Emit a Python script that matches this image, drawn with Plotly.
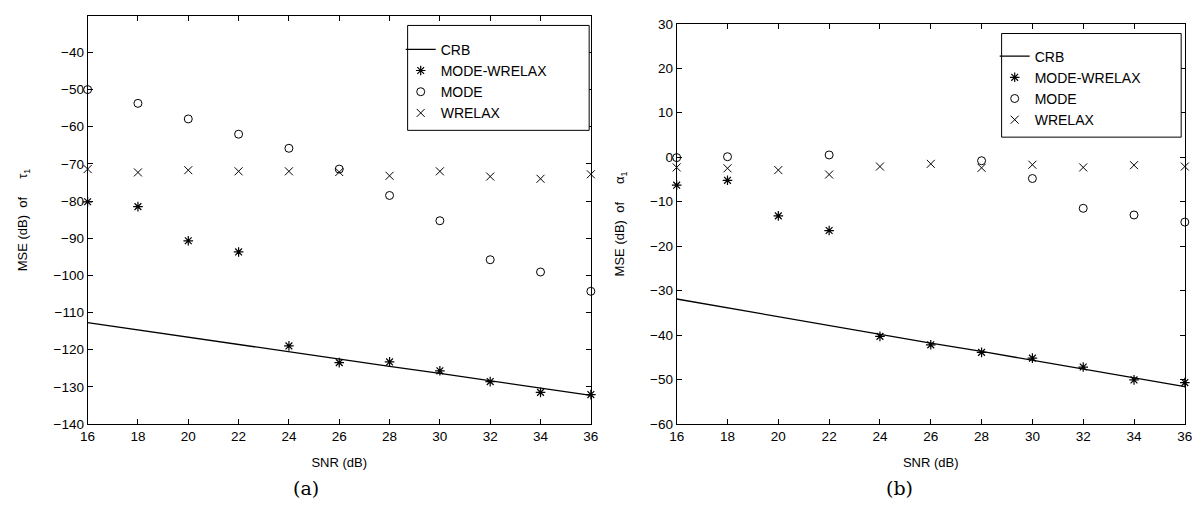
import plotly.graph_objects as go

W, H = 1203, 521

snr = [16, 18, 20, 22, 24, 26, 28, 30, 32, 34, 36]

# panel (a): tau_1
crb_tau = [-112.7, -114.7, -116.6, -118.6, -120.5, -122.5, -124.5, -126.4, -128.4, -130.3, -132.3]
mw_tau = [-80.2, -81.5, -90.7, -93.7, -119.0, -123.5, -123.3, -125.7, -128.6, -131.5, -132.1]
mode_tau = [-50.0, -53.7, -57.9, -62.0, -65.8, -71.4, -78.5, -85.3, -95.8, -99.1, -104.3]
wrelax_tau = [-71.4, -72.3, -71.7, -72.0, -72.0, -72.2, -73.2, -72.0, -73.4, -74.0, -72.8]

# panel (b): alpha_1
crb_alpha = [-31.9, -33.9, -35.9, -37.8, -39.8, -41.8, -43.7, -45.7, -47.6, -49.6, -51.6]
mw_alpha = [-6.3, -5.2, -13.2, -16.5, -40.3, -42.2, -43.9, -45.2, -47.2, -50.1, -50.7]
mode_alpha = [-0.1, 0.1, None, 0.5, None, None, -0.8, -4.8, -11.5, -13.0, -14.6]
wrelax_alpha = [-2.3, -2.5, -2.9, -3.9, -2.1, -1.5, -2.4, -1.7, -2.3, -1.8, -2.1]

x_ticks = [16, 18, 20, 22, 24, 26, 28, 30, 32, 34, 36]
y_ticks_a = [-140, -130, -120, -110, -100, -90, -80, -70, -60, -50, -40]
y_ticks_b = [-60, -50, -40, -30, -20, -10, 0, 10, 20, 30]

names = ["CRB", "MODE-WRELAX", "MODE", "WRELAX"]
captions = ["(a)", "(b)"]
xlabel = "SNR (dB)"
ylabels = ["MSE (dB)\u00a0\u00a0of\u00a0\u00a0\u00a0\u00a0\u00a0τ<sub>1</sub>",
           "MSE (dB)\u00a0\u00a0of\u00a0\u00a0\u00a0\u00a0\u00a0α<sub>1</sub>"]

FONT = "Liberation Sans, Arial, Helvetica, sans-serif"

fig = go.Figure()

def add_panel(xa, ya, legend, crb, mw, mode, wr):
    common = dict(xaxis=xa, yaxis=ya, legend=legend, cliponaxis=False)
    pad = "\u00a0" * 9
    fig.add_trace(go.Scatter(x=snr, y=crb, mode="lines", name=names[0],
                             line=dict(color="black", width=1.3), **common))
    fig.add_trace(go.Scatter(x=snr, y=mw, mode="markers", name=names[1] + pad,
                             marker=dict(symbol="asterisk-open", size=8, color="black",
                                         line=dict(color="black", width=1.2)), **common))
    fig.add_trace(go.Scatter(x=snr, y=mode, mode="markers", name=names[2],
                             marker=dict(symbol="circle-open", size=8, color="black",
                                         line=dict(color="black", width=1)), **common))
    fig.add_trace(go.Scatter(x=snr, y=wr, mode="markers", name=names[3],
                             marker=dict(symbol="x-thin-open", size=8, color="black",
                                         line=dict(color="black", width=1)), **common))

add_panel("x", "y", "legend", crb_tau, mw_tau, mode_tau, wrelax_tau)
add_panel("x2", "y2", "legend2", crb_alpha, mw_alpha, mode_alpha, wrelax_alpha)

def px_x(v):
    return v / W

def px_y(v):
    return (H - v) / H

axis_common = dict(showline=True, linecolor="black", linewidth=1, mirror="ticks",
                   ticks="inside", ticklen=5, tickcolor="black", tickwidth=1,
                   showgrid=False, zeroline=False,
                   tickfont=dict(family=FONT, size=13.5, color="black"))

fig.update_layout(
    width=W, height=H, margin=dict(l=0, r=0, t=0, b=0),
    paper_bgcolor="white", plot_bgcolor="white",
    xaxis=dict(domain=[px_x(80.7), px_x(590.7)], range=[16, 36], tickvals=x_ticks,
               anchor="y", title=dict(text=xlabel, standoff=14,
                                      font=dict(family=FONT, size=13, color="black")),
               **axis_common),
    yaxis=dict(domain=[px_y(429.3), px_y(9.3)], range=[-140, -30.2], tickvals=y_ticks_a,
               anchor="x", title=dict(text=ylabels[0], standoff=22,
                                      font=dict(family=FONT, size=13, color="black")),
               **axis_common),
    xaxis2=dict(domain=[px_x(677.7), px_x(1192.7)], range=[16, 36], tickvals=x_ticks,
                anchor="y2", title=dict(text=xlabel, standoff=14,
                                        font=dict(family=FONT, size=13, color="black")),
                **axis_common),
    yaxis2=dict(domain=[px_y(429.3), px_y(17.3)], range=[-60, 30], tickvals=y_ticks_b,
                anchor="x2", title=dict(text=ylabels[1], standoff=22,
                                        font=dict(family=FONT, size=13, color="black")),
                **axis_common),
    legend=dict(x=px_x(398), y=px_y(27.5), xanchor="left", yanchor="top",
                bgcolor="rgba(0,0,0,0)", borderwidth=0,
                font=dict(family=FONT, size=14, color="black")),
    legend2=dict(x=px_x(1000), y=px_y(34.5), xanchor="left", yanchor="top",
                 bgcolor="rgba(0,0,0,0)", borderwidth=0,
                 font=dict(family=FONT, size=14, color="black")),
    shapes=[
        dict(type="rect", xref="paper", yref="paper", layer="above",
             x0=px_x(405), x1=px_x(589), y0=px_y(127), y1=px_y(19),
             line=dict(color="black", width=1), fillcolor="white"),
        dict(type="rect", xref="paper", yref="paper", layer="above",
             x0=px_x(1007), x1=px_x(1189), y0=px_y(134), y1=px_y(27.3),
             line=dict(color="black", width=1), fillcolor="white"),
    ],
    annotations=[
        dict(text=captions[0], xref="paper", yref="paper", x=px_x(302), y=px_y(495),
             xanchor="center", yanchor="middle", showarrow=False,
             font=dict(family="DejaVu Serif, serif", size=19, color="black")),
        dict(text=captions[1], xref="paper", yref="paper", x=px_x(904), y=px_y(495),
             xanchor="center", yanchor="middle", showarrow=False,
             font=dict(family="DejaVu Serif, serif", size=19, color="black")),
    ],
)

fig.write_html("out.html")
